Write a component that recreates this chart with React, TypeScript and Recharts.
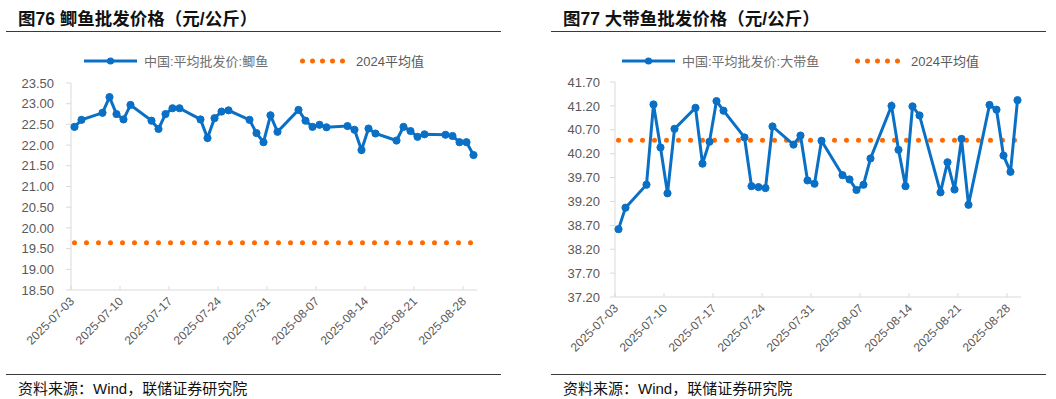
import { Line, LineChart, XAxis, YAxis } from 'recharts'

// weekday trading dates shared by both panels
const DATES = [
  '2025-07-03', '2025-07-04',
  '2025-07-07', '2025-07-08', '2025-07-09', '2025-07-10', '2025-07-11',
  '2025-07-14', '2025-07-15', '2025-07-16', '2025-07-17', '2025-07-18',
  '2025-07-21', '2025-07-22', '2025-07-23', '2025-07-24', '2025-07-25',
  '2025-07-28', '2025-07-29', '2025-07-30', '2025-07-31', '2025-08-01',
  '2025-08-04', '2025-08-05', '2025-08-06', '2025-08-07', '2025-08-08',
  '2025-08-11', '2025-08-12', '2025-08-13', '2025-08-14', '2025-08-15',
  '2025-08-18', '2025-08-19', '2025-08-20', '2025-08-21', '2025-08-22',
  '2025-08-25', '2025-08-26', '2025-08-27', '2025-08-28', '2025-08-29'
]

const CRUCIAN_PRICE = [
  22.44, 22.61,
  22.78, 23.16, 22.75, 22.62, 22.97,
  22.59, 22.39, 22.75, 22.89, 22.89,
  22.62, 22.17, 22.65, 22.81, 22.84,
  22.61, 22.29, 22.07, 22.72, 22.32,
  22.85, 22.59, 22.44, 22.49, 22.43,
  22.46, 22.37, 21.88, 22.4, 22.28,
  22.11, 22.44, 22.34, 22.2, 22.26,
  22.25, 22.22, 22.07, 22.07, 21.76
]
const CRUCIAN_AVG_2024 = 19.64

const HAIRTAIL_PRICE = [
  38.62, 39.07,
  39.55, 41.23, 40.33, 39.37, 40.72,
  41.16, 39.99, 40.45, 41.3, 41.1,
  40.54, 39.52, 39.5, 39.48, 40.77,
  40.39, 40.58, 39.64, 39.57, 40.47,
  39.75, 39.66, 39.44, 39.55, 40.1,
  41.2, 40.28, 39.52, 41.19, 41.0,
  39.39, 40.02, 39.45, 40.51, 39.13,
  41.22, 41.12, 40.16, 39.82, 41.32
]
const HAIRTAIL_AVG_2024 = 40.48

const X_TICK_LABELS = [
  '2025-07-03', '2025-07-10', '2025-07-17', '2025-07-24', '2025-07-31',
  '2025-08-07', '2025-08-14', '2025-08-21', '2025-08-28'
]
const CRUCIAN_Y_TICKS = [18.5, 19, 19.5, 20, 20.5, 21, 21.5, 22, 22.5, 23, 23.5]
const HAIRTAIL_Y_TICKS = [37.2, 37.7, 38.2, 38.7, 39.2, 39.7, 40.2, 40.7, 41.2, 41.7]

const BLUE = '#0a70c6'
const ORANGE = '#ff6a00'
const AXIS = '#d9d9d9'
const LABEL = '#595959'
const FONT = "'Liberation Sans', Arial, 'Noto Sans CJK SC', sans-serif"
const DAY_MS = 86400000
const START = Date.parse(X_TICK_LABELS[0])
const X_TICKS = X_TICK_LABELS.map((label) => (Date.parse(label) - START) / DAY_MS)

function buildRows(values: number[], avg: number) {
  return DATES.map((date, i) => ({
    x: (Date.parse(date) - START) / DAY_MS + 0.5,
    price: values[i],
    avg
  }))
}

function DateTick(props: any) {
  const { x, y, payload } = props
  const idx = X_TICKS.indexOf(payload.value)
  const label = idx >= 0 ? X_TICK_LABELS[idx] : ''
  const tx = x + 4
  const ty = y + 12
  return (
    <g>
      <line x1={x} x2={x} y1={y - 4} y2={y} stroke={AXIS} />
      <text
        x={tx}
        y={ty}
        transform={`rotate(-45 ${tx} ${ty})`}
        textAnchor="end"
        fontSize={12}
        fill={LABEL}
        fontFamily={FONT}
      >
        {label}
      </text>
    </g>
  )
}

interface PanelProps {
  left: number
  title: string
  seriesName: string
  values: number[]
  avg: number
  yTicks: number[]
  chartWidth: number
  chartHeight: number
  marginTop: number
  marginRight: number
  yAxisWidth: number
  tickMargin: number
  legendBlueX: number
  legendOrangeX: number
}

function Panel(p: PanelProps) {
  const rows = buildRows(p.values, p.avg)
  return (
    <>
      <div style={{ position: 'absolute', left: p.left + 18, top: 5, fontSize: 17.5, fontWeight: 700, color: '#111', whiteSpace: 'nowrap' }}>
        {p.title}
      </div>
      <div style={{ position: 'absolute', left: p.left + 6, top: 31, width: 495, height: 1, background: '#3a3a3a' }} />
      <div style={{ position: 'absolute', left: p.left, top: 0 }}>
        <LineChart
          width={p.chartWidth}
          height={p.chartHeight}
          data={rows}
          margin={{ top: p.marginTop, right: p.marginRight, bottom: 0, left: 0 }}
        >
          <XAxis
            dataKey="x"
            type="number"
            domain={[0, 58]}
            ticks={X_TICKS}
            interval={0}
            height={80}
            tickSize={0}
            tickMargin={0}
            tickLine={false}
            axisLine={{ stroke: AXIS }}
            tick={<DateTick />}
          />
          <YAxis
            type="number"
            domain={[p.yTicks[0], p.yTicks[p.yTicks.length - 1]]}
            ticks={p.yTicks}
            interval={0}
            width={p.yAxisWidth}
            tickSize={5}
            tickMargin={p.tickMargin}
            axisLine={{ stroke: AXIS }}
            tickLine={{ stroke: AXIS }}
            tick={{ fill: LABEL, fontSize: 13, fontFamily: FONT }}
            tickFormatter={(v: number) => v.toFixed(2)}
          />
          <Line
            type="linear"
            dataKey="avg"
            stroke={ORANGE}
            strokeWidth={5}
            strokeDasharray="0 12"
            strokeLinecap="round"
            dot={false}
            isAnimationActive={false}
          />
          <Line
            type="linear"
            dataKey="price"
            stroke={BLUE}
            strokeWidth={3}
            dot={{ r: 3.6, fill: BLUE, stroke: BLUE, strokeWidth: 1 }}
            isAnimationActive={false}
          />
        </LineChart>
      </div>
      <div style={{ position: 'absolute', left: p.left + p.legendBlueX, top: 51, display: 'flex', alignItems: 'center', fontSize: 13, color: '#6e6e6e', whiteSpace: 'nowrap' }}>
        <svg width={54} height={16} style={{ marginRight: 6 }}>
          <line x1={0} x2={53} y1={8} y2={8} stroke={BLUE} strokeWidth={3} />
          <circle cx={26.5} cy={8} r={3.6} fill={BLUE} />
        </svg>
        {p.seriesName}
      </div>
      <div style={{ position: 'absolute', left: p.left + p.legendOrangeX, top: 51, display: 'flex', alignItems: 'center', fontSize: 13, color: LABEL, whiteSpace: 'nowrap' }}>
        <svg width={54} height={16} style={{ marginRight: 2 }}>
          <line x1={2.5} x2={52.5} y1={8} y2={8} stroke={ORANGE} strokeWidth={5} strokeDasharray="0 10" strokeLinecap="round" />
        </svg>
        2024平均值
      </div>
      <div style={{ position: 'absolute', left: p.left + 6, top: 374, width: 495, height: 1, background: '#3a3a3a' }} />
      <div style={{ position: 'absolute', left: p.left + 18, top: 377, fontSize: 15, color: '#111', whiteSpace: 'nowrap' }}>
        资料来源：Wind，联储证券研究院
      </div>
    </>
  )
}

export default function App() {
  return (
    <div style={{ position: 'absolute', left: 0, top: 0, width: 1056, height: 399, background: '#fff', fontFamily: FONT, overflow: 'hidden' }}>
      <Panel
        left={0}
        title="图76 鲫鱼批发价格（元/公斤）"
        seriesName="中国:平均批发价:鲫鱼"
        values={CRUCIAN_PRICE}
        avg={CRUCIAN_AVG_2024}
        yTicks={CRUCIAN_Y_TICKS}
        chartWidth={500}
        chartHeight={370}
        marginTop={83}
        marginRight={23}
        yAxisWidth={71}
        tickMargin={12}
        legendBlueX={84}
        legendOrangeX={300}
      />
      <Panel
        left={545}
        title="图77 大带鱼批发价格（元/公斤）"
        seriesName="中国:平均批发价:大带鱼"
        values={HAIRTAIL_PRICE}
        avg={HAIRTAIL_AVG_2024}
        yTicks={HAIRTAIL_Y_TICKS}
        chartWidth={483}
        chartHeight={377}
        marginTop={82}
        marginRight={7}
        yAxisWidth={70}
        tickMargin={10}
        legendBlueX={77}
        legendOrangeX={310}
      />
    </div>
  )
}
